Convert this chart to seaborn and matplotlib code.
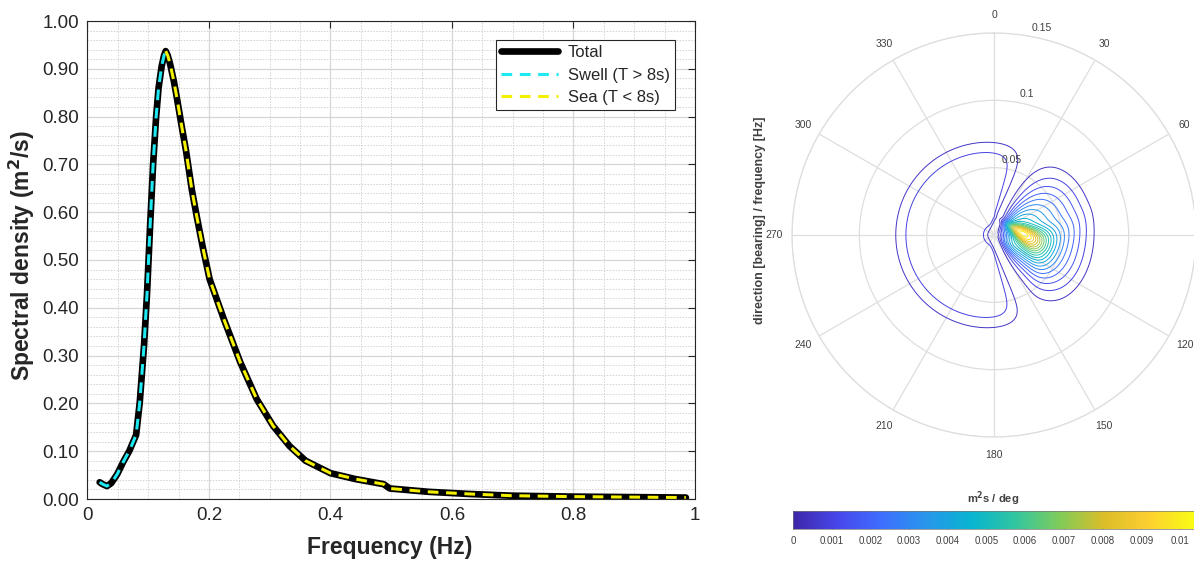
import numpy as np
import matplotlib
matplotlib.use("Agg")
import matplotlib.pyplot as plt
import seaborn as sns
from matplotlib.colors import LinearSegmentedColormap, Normalize
from matplotlib.ticker import MultipleLocator, FixedLocator
from matplotlib.cm import ScalarMappable

# ---------------- 1-D wave spectrum ----------------
freq_hz = [0.020, 0.025, 0.032, 0.039, 0.049, 0.059, 0.069, 0.080, 0.086, 0.093,
           0.098, 0.103, 0.108, 0.113, 0.117, 0.122, 0.126, 0.1287, 0.132, 0.136,
           0.142, 0.147, 0.155, 0.162, 0.172, 0.180, 0.190, 0.201, 0.2245, 0.2515,
           0.2785, 0.3055, 0.3324, 0.359, 0.400, 0.440, 0.4875, 0.4976, 0.5617,
           0.629, 0.6966, 0.798, 0.985]
total_density = [0.035, 0.031, 0.027, 0.033, 0.052, 0.078, 0.101, 0.134, 0.202, 0.320,
                 0.430, 0.570, 0.700, 0.800, 0.860, 0.905, 0.928, 0.937, 0.928, 0.910,
                 0.875, 0.840, 0.780, 0.730, 0.645, 0.590, 0.525, 0.460, 0.376, 0.286,
                 0.209, 0.153, 0.111, 0.080, 0.054, 0.042, 0.031, 0.022, 0.015,
                 0.0105, 0.007, 0.005, 0.003]
split_freq = 0.1287          # swell / sea partition frequency

x_ticks = [0, 0.2, 0.4, 0.6, 0.8, 1.0]
x_tick_labels = ["0", "0.2", "0.4", "0.6", "0.8", "1"]
y_ticks = [0.0, 0.1, 0.2, 0.3, 0.4, 0.5, 0.6, 0.7, 0.8, 0.9, 1.0]
y_tick_labels = [f"{v:.2f}" for v in y_ticks]

# ---------------- directional spectrum model ----------------
# wind-sea core (elongated peak, cartesian east/north frame)
core_amp = 0.0052
core_center_en = (0.0223, 0.0007)
core_axis_deg = 121.0
core_sigma_along = (0.009, 0.014)     # tip side, outer side
core_sigma_across = 0.004
core_widen = 0.02
# broad eastern lobe
lobe_slope = 0.095
lobe_outer_r = 0.078
lobe_edge_w = 0.004
lobe_inner_r = 0.012
lobe_dir_deg = 90.0
lobe_half_width_deg = (52.0, 49.0)    # northern side, southern side
lobe_power = 4
# western background plateau
bg_amp = 0.0014
bg_center_en = (-0.004, 0.0)
bg_dir_deg = 270.0
bg_half_width_deg = 112.0
bg_power = 20
bg_hole_r = 0.007
bg_edge_r = 0.066
bg_edge_w = 0.005

contour_levels = np.arange(0.0005, 0.0105, 0.0005)
cbar_max = 0.01036
cbar_ticks = [0, 0.001, 0.002, 0.003, 0.004, 0.005, 0.006, 0.007, 0.008, 0.009, 0.01]
cbar_tick_labels = ["0", "0.001", "0.002", "0.003", "0.004", "0.005",
                    "0.006", "0.007", "0.008", "0.009", "0.01"]
r_rings = [0.05, 0.10, 0.15]
r_ring_labels = ["0.05", "0.1", "0.15"]
bearing_ticks = list(range(0, 360, 30))
# the 90 label falls beyond the right edge of the canvas
bearing_labels = ["" if b == 90 else str(b) for b in bearing_ticks]

parula_anchors = [(0.2422, 0.1504, 0.6603), (0.2803, 0.2782, 0.9221),
                  (0.2440, 0.4358, 0.9988), (0.1540, 0.5902, 0.9218),
                  (0.0297, 0.7082, 0.8163), (0.1938, 0.7758, 0.6251),
                  (0.5044, 0.7993, 0.3480), (0.8634, 0.7406, 0.1596),
                  (0.9892, 0.8136, 0.1885), (0.9769, 0.9839, 0.0805)]
parula = LinearSegmentedColormap.from_list("parula", parula_anchors, N=256)


def signed_angdiff(a, b):
    return (a - b + np.pi) % (2 * np.pi) - np.pi


def softplus(z):
    return np.logaddexp(0.0, z)


def directional_field(th, rr):
    east = rr * np.sin(th)
    north = rr * np.cos(th)

    # elongated wind-sea core
    phi = np.deg2rad(core_axis_deg)
    dx = east - core_center_en[0]
    dy = north - core_center_en[1]
    u = dx * np.sin(phi) + dy * np.cos(phi)
    v = dx * np.cos(phi) - dy * np.sin(phi)
    s_u = np.where(u < 0, core_sigma_along[0], core_sigma_along[1])
    s_v = core_sigma_across * np.exp(u / core_widen)
    core = core_amp * np.exp(-0.5 * (u / s_u) ** 2 - 0.5 * (v / s_v) ** 2)

    # broad eastern lobe: near-linear radial decay with a soft outer edge
    radial = lobe_slope * lobe_edge_w * softplus((lobe_outer_r - rr) / lobe_edge_w)
    radial *= 1 - np.exp(-(rr / lobe_inner_r) ** 2)
    sd = signed_angdiff(th, np.deg2rad(lobe_dir_deg))
    half = np.where(sd < 0, np.deg2rad(lobe_half_width_deg[0]),
                    np.deg2rad(lobe_half_width_deg[1]))
    lobe = radial * np.exp(-np.abs(sd / half) ** lobe_power)

    # western background plateau with a hole at the origin
    be = east - bg_center_en[0]
    bn = north - bg_center_en[1]
    br = np.hypot(be, bn)
    bth = np.arctan2(be, bn)
    d = np.abs(signed_angdiff(bth, np.deg2rad(bg_dir_deg))) / np.deg2rad(bg_half_width_deg)
    plateau = (1 - np.exp(-(rr / bg_hole_r) ** 2)) / (1 + np.exp((br - bg_edge_r) / bg_edge_w))
    bg = bg_amp * plateau * np.exp(-d ** bg_power)
    return core + lobe + bg


# ---------------- figure ----------------
sns.set_theme(style="white")
plt.rcParams["font.family"] = ["Liberation Sans", "DejaVu Sans"]
W, H = 1194, 563
fig = plt.figure(figsize=(W / 100, H / 100), dpi=100)
fig.patch.set_facecolor("white")
dark = "#262626"

# ---- left: frequency spectrum ----
ax1 = fig.add_axes([87.5 / W, 1 - 499 / H, 607.5 / W, 478 / H])
f = np.array(freq_hz)
s = np.array(total_density)
swell = f <= split_freq
sea = f >= split_freq

sns.lineplot(x=f, y=s, ax=ax1, color="black", linewidth=4.8, sort=False,
             estimator=None, label="Total", solid_capstyle="round",
             solid_joinstyle="round")
sns.lineplot(x=f[swell], y=s[swell], ax=ax1, color="#1ee8f2", linewidth=2.2,
             sort=False, estimator=None, label="Swell (T > 8s)")
ax1.lines[-1].set_dashes([3.5, 2.5])
sns.lineplot(x=f[sea], y=s[sea], ax=ax1, color="#f5f000", linewidth=2.2,
             sort=False, estimator=None, label="Sea (T < 8s)")
ax1.lines[-1].set_dashes([3.5, 2.5])

ax1.set_xlim(0, 1)
ax1.set_ylim(0, 1)
ax1.xaxis.set_major_locator(FixedLocator(x_ticks))
ax1.set_xticklabels(x_tick_labels)
ax1.yaxis.set_major_locator(FixedLocator(y_ticks))
ax1.set_yticklabels(y_tick_labels)
ax1.xaxis.set_minor_locator(MultipleLocator(0.05))
ax1.yaxis.set_minor_locator(MultipleLocator(0.02))
ax1.grid(which="major", color="#d6d6d6", linewidth=0.9, linestyle="-")
ax1.grid(which="minor", color="#d2d2d2", linewidth=0.7, linestyle=(0, (1.5, 1.5)))
ax1.set_axisbelow(True)
ax1.tick_params(which="major", direction="in", length=5, width=0.8, color=dark,
                top=True, right=True, labelsize=13.5, labelcolor=dark, pad=6)
ax1.tick_params(which="minor", length=0)
for sp in ax1.spines.values():
    sp.set_color(dark)
    sp.set_linewidth(0.8)
ax1.set_xlabel("Frequency (Hz)", fontsize=16.5, fontweight="bold", color=dark)
ax1.set_ylabel("Spectral density (m$^\\mathbf{2}$/s)", fontsize=16.5,
               fontweight="bold", color=dark)
ax1.xaxis.set_label_coords(0.498, -0.078)
ax1.yaxis.set_label_coords(-0.083, 0.508)
leg = ax1.legend(loc="upper right", bbox_to_anchor=(0.967, 0.960), fontsize=12,
                 frameon=True, fancybox=False, edgecolor=dark, framealpha=1,
                 handlelength=3.4, handletextpad=0.6, labelspacing=0.45,
                 borderpad=0.3, borderaxespad=0)
leg.get_frame().set_linewidth(0.8)
for t in leg.get_texts():
    t.set_color(dark)

# ---- right: directional spectrum (polar) ----
ax2 = fig.add_axes([792 / W, 1 - 437 / H, 404 / W, 404 / H], projection="polar")
ax2.set_theta_zero_location("N")
ax2.set_theta_direction(-1)
ax2.set_rlim(0, 0.15)
ax2.set_facecolor("white")
ax2.set_axisbelow(True)

theta = np.linspace(0, 2 * np.pi, 721)
radius = np.linspace(0, 0.15, 601)
TH, RR = np.meshgrid(theta, radius)
Z = directional_field(TH, RR)
norm = Normalize(vmin=0, vmax=cbar_max)
ax2.contour(TH, RR, Z, levels=contour_levels, cmap=parula, norm=norm,
            linewidths=0.7)

ax2.set_thetagrids(bearing_ticks, labels=bearing_labels)
ax2.set_rgrids(r_rings, labels=["", "", ""])
ax2.grid(color="#dedede", linewidth=0.9)
ax2.spines["polar"].set_color("#dedede")
ax2.spines["polar"].set_linewidth(0.9)
ax2.tick_params(axis="x", labelsize=7.5, labelcolor="#404040", pad=0)
for rv, lab in zip(r_rings, r_ring_labels):
    ax2.text(np.deg2rad(13), rv + 0.0075, lab, fontsize=7.5, color="#404040",
             ha="center", va="center")
fig.text(760 / W, 1 - 220 / H, "direction [bearing] / frequency [Hz]",
         rotation=90, fontsize=9, fontweight="bold", color="#404040",
         ha="center", va="center")

# ---- colorbar ----
cax = fig.add_axes([793 / W, 1 - 529 / H, 401 / W, 18 / H])
sm = ScalarMappable(norm=norm, cmap=parula)
cb = fig.colorbar(sm, cax=cax, orientation="horizontal")
cb.set_ticks(cbar_ticks)
cb.set_ticklabels(cbar_tick_labels)
cb.ax.tick_params(direction="in", length=3, width=0.6, color="#333333",
                  labelsize=7, labelcolor="#404040", pad=5)
cb.outline.set_linewidth(0.5)
cb.outline.set_edgecolor("#777777")
cb.ax.xaxis.set_label_position("top")
cb.set_label("m$^\\mathbf{2}$s / deg", fontsize=8, fontweight="bold",
             color="#404040", labelpad=6)

fig.savefig("out.png", dpi=100)
